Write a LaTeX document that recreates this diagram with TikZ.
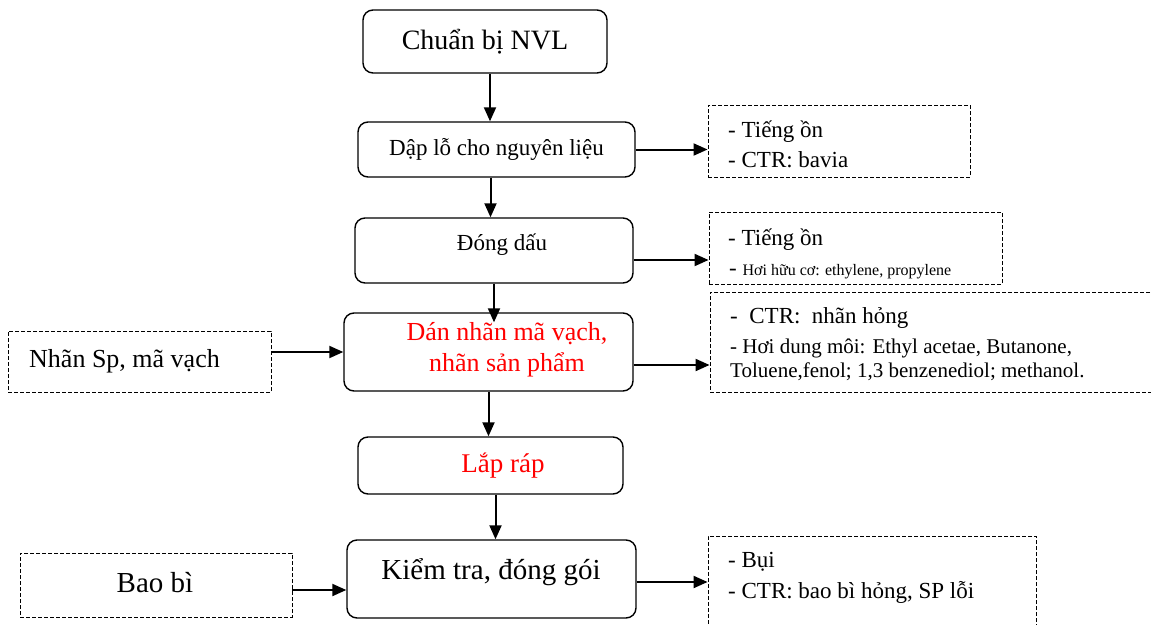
\documentclass[tikz,border=0pt]{standalone}
\usepackage{fontspec}
\setmainfont{Liberation Serif}
\usetikzlibrary{arrows.meta}
\newcommand{\fs}[1]{\fontsize{#1}{1.2\dimexpr#1pt\relax}\selectfont}
\begin{document}
\begin{tikzpicture}[x=1pt,y=-1pt,
  proc/.style={draw,line width=1.4pt,rounded corners=10pt,inner sep=0pt},
  note/.style={draw,line width=0.9pt,dash pattern=on 4pt off 2pt,inner sep=0pt},
  arr/.style={line width=2pt,-{Triangle[length=14pt,width=12pt]}},
  txt/.style={inner sep=0pt,anchor=base west}]
\useasboundingbox (0,0) rectangle (1151,624);

% main process column
\node[proc,minimum width=244pt,minimum height=63pt,font=\fs{28}] (b1) at (485,41.5) {Chuẩn bị NVL};
\node[proc,minimum width=277pt,minimum height=55pt,font=\fs{23}] (b2) at (496.5,149.5) {Dập lỗ cho nguyên liệu};
\node[proc,minimum width=278pt,minimum height=65pt] (b3) at (494,250.5) {};
\node[inner sep=0pt,font=\fs{23}] (t3) at (502,245) {Đóng dấu};
\node[proc,minimum width=289pt,minimum height=78pt] (b4) at (488.5,352) {};
\node[inner sep=0pt,align=center,text=red,font=\fs{26}] (t4) at (507,350) {Dán nhãn mã vạch,\\nhãn sản phẩm};
\node[proc,minimum width=265pt,minimum height=57pt] (b5) at (490.5,465.5) {};
\node[inner sep=0pt,text=red,font=\fs{27}] (t5) at (503,466) {Lắp ráp};
\node[proc,minimum width=289pt,minimum height=78pt] (b6) at (491.5,579) {};
\node[inner sep=0pt,font=\fs{29}] (t6) at (491,572) {Kiểm tra, đóng gói};

% inputs on the left
\node[note,minimum width=263pt,minimum height=61pt] (l1) at (139.5,361.5) {};
\node[txt,font=\fs{26}] (tl1) at (29,367) {Nhãn Sp, mã vạch};
\node[note,minimum width=272pt,minimum height=64pt] (l2) at (156,585) {};
\node[inner sep=0pt,anchor=base,font=\fs{29}] (tl2) at (155,592) {Bao bì};

% outputs on the right
\node[note,minimum width=262pt,minimum height=72pt] (r1) at (839,141) {};
\node[txt,font=\fs{23}] (r1a) at (728,137) {- Tiếng ồn};
\node[txt,font=\fs{23}] (r1b) at (728,167) {- CTR: bavia};

\node[note,minimum width=293pt,minimum height=72pt] (r2) at (855.5,248) {};
\node[txt,font=\fs{23}] (r2a) at (728,245) {- Tiếng ồn};
\node[txt,font=\fs{23}] (r2b) at (729,275) {- {\fs{16}Hơi hữu cơ: ethylene, propylene}};

\node[note,minimum width=452pt,minimum height=100pt] (r3) at (936,342) {};
\node[txt,font=\fs{23}] (r3a) at (730,323) {-\ \ CTR:\ \ nhãn hỏng};
\node[txt,font=\fs{21}] (r3b) at (730,353) {- Hơi dung môi: Ethyl acetae, Butanone,};
\node[txt,font=\fs{21}] (r3c) at (730,377) {Toluene,fenol; 1,3 benzenediol; methanol.};

\node[note,minimum width=328pt,minimum height=94pt] (r4) at (872,583) {};
\node[txt,font=\fs{23}] (r4a) at (728,567) {- Bụi};
\node[txt,font=\fs{23}] (r4b) at (728,598) {- CTR: bao bì hỏng, SP lỗi};

% flow arrows
\draw[arr] ([xshift=5pt]b1.south) -- ([xshift=5pt]b1.south |- b2.north);
\draw[arr] ([xshift=-6pt]b2.south) -- ([xshift=-6pt]b2.south |- b3.north);
\draw[arr] (b3.south) -- ([yshift=-10pt]b3.south |- b4.north);
\draw[arr] (b4.south) -- (b4.south |- b5.north);
\draw[arr] ([xshift=5pt]b5.south) -- ([xshift=5pt]b5.south |- b6.north);

\draw[arr] (b2.east) -- (b2.east -| r1.west);
\draw[arr] ([yshift=-9.5pt]b3.east) -- ([yshift=-9.5pt]b3.east -| r2.west);
\draw[arr] ([yshift=-13pt]b4.east) -- ([yshift=-13pt]b4.east -| r3.west);
\draw[arr] ([yshift=-3pt]b6.east) -- ([yshift=-3pt]b6.east -| r4.west);

\draw[arr] (l1.east |- b4.west) -- (b4.west);
\draw[arr] ([yshift=-5pt]l2.east) -- ([yshift=-5pt]l2.east -| b6.west);
\end{tikzpicture}
\end{document}
